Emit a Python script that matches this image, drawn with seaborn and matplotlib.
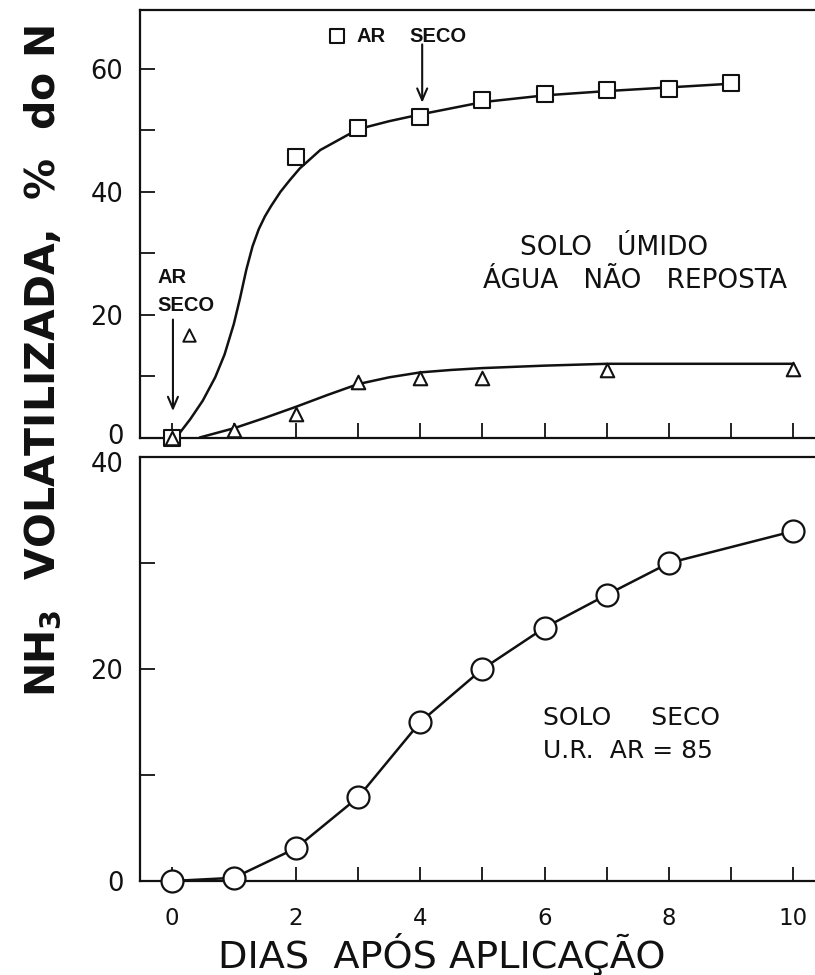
import numpy as np
import pandas as pd
import matplotlib
matplotlib.use("Agg")
import matplotlib.pyplot as plt
import matplotlib.transforms as mtrans
from matplotlib.ticker import MultipleLocator
import seaborn as sns

# ---------------- data ----------------
# top panel: wet soil, water not replaced
sq_days = [0, 2, 3, 4, 5, 6, 7, 8, 9]
sq_vals = [0.0, 45.7, 50.4, 52.2, 55.0, 55.9, 56.6, 56.8, 57.7]
tri_days = [0, 1, 2, 3, 4, 5, 7, 10]
tri_vals = [0.0, 1.3, 3.8, 9.0, 9.7, 9.7, 11.0, 11.1]

# hand-drawn fitted curves
sq_curve_x = [0.08, 0.3, 0.5, 0.7, 0.85, 1.0, 1.1, 1.2, 1.3, 1.4, 1.5, 1.6,
              1.75, 1.9, 2.06, 2.39, 3.0, 3.5, 4.0, 5.0, 6.0, 7.0, 8.0, 9.0]
sq_curve_y = [0.1, 3.0, 6.0, 9.8, 13.5, 18.5, 22.7, 27.3, 31.1, 33.9, 36.0,
              37.7, 40.0, 41.9, 43.8, 46.8, 50.2, 51.5, 52.6, 54.6, 55.7,
              56.4, 57.0, 57.6]
tri_curve_x = [0.45, 1.0, 1.5, 2.0, 2.5, 3.0, 3.5, 4.0, 4.5, 5.0, 5.5, 6.0,
               7.0, 8.0, 9.0, 10.0]
tri_curve_y = [0.0, 1.5, 3.2, 5.0, 6.9, 8.7, 9.8, 10.6, 11.0, 11.3, 11.5,
               11.7, 12.0, 12.0, 12.0, 12.0]

# bottom panel: dry soil, air RH = 85
circ_days = [0, 1, 2, 3, 4, 5, 6, 7, 8, 10]
circ_vals = [0.0, 0.3, 3.1, 7.9, 15.0, 20.0, 23.9, 27.0, 30.0, 33.0]

top_yticks = [0, 20, 40, 60]
bot_yticks = [0, 20, 40]
bot_xticks = [0, 2, 4, 6, 8, 10]

# ---------------- style ----------------
sns.set_theme(style="ticks")
plt.rcParams["font.family"] = ["DejaVu Sans"]
plt.rcParams["axes.linewidth"] = 1.6
plt.rcParams["axes.edgecolor"] = "#111111"

INK = "#111111"
fig = plt.figure(figsize=(8.15, 9.75), dpi=100)
fig.patch.set_facecolor("white")

W, H = 815.0, 975.0
ax1 = fig.add_axes([140 / W, 1 - 437.5 / H, 1 - 140 / W, (437.5 - 10) / H])
ax2 = fig.add_axes([140 / W, 1 - 881 / H, 1 - 140 / W, (881 - 457) / H])

XLIM = (-0.51, 10.35)

# ---- top panel ----
df_sq_c = pd.DataFrame({"x": sq_curve_x, "y": sq_curve_y})
df_tr_c = pd.DataFrame({"x": tri_curve_x, "y": tri_curve_y})
df_sq = pd.DataFrame({"x": sq_days, "y": sq_vals})
df_tr = pd.DataFrame({"x": tri_days, "y": tri_vals})

sns.lineplot(data=df_sq_c, x="x", y="y", ax=ax1, color=INK, lw=1.8,
             sort=False, estimator=None, zorder=2)
sns.lineplot(data=df_tr_c, x="x", y="y", ax=ax1, color=INK, lw=1.8,
             sort=False, estimator=None, zorder=2)
sns.scatterplot(data=df_sq, x="x", y="y", ax=ax1, marker="s", s=130,
                facecolor="white", edgecolor=INK, linewidth=1.5, zorder=4,
                clip_on=False)
sns.scatterplot(data=df_tr, x="x", y="y", ax=ax1, marker="^", s=95,
                facecolor="white", edgecolor=INK, linewidth=1.5, zorder=4,
                clip_on=False)

ax1.set_xlim(*XLIM)
ax1.set_ylim(0, 69.6)
ax1.set_yticks(top_yticks)
ax1.yaxis.set_minor_locator(MultipleLocator(10))
ax1.xaxis.set_major_locator(MultipleLocator(1))
ax1.tick_params(axis="x", which="both", direction="in", length=11, width=1.3,
                color=INK, labelbottom=False)
ax1.tick_params(axis="y", which="both", direction="in", length=11, width=1.3,
                color=INK, pad=12, labelsize=18.5, labelcolor=INK)
ax1.set_xlabel("")
ax1.set_ylabel("")
ax1.spines["right"].set_visible(False)

# annotations top panel
ax1.scatter([2.66], [65.3], marker="s", s=100, facecolor="white",
            edgecolor=INK, linewidth=1.5, zorder=5)
ax1.text(2.98, 65.3, "AR", fontsize=14.5, fontfamily="Liberation Sans",
         fontweight="bold", ha="left", va="center", color=INK)
ax1.text(3.83, 65.3, "SECO", fontsize=14.5, fontfamily="Liberation Sans",
         fontweight="bold", ha="left", va="center", color=INK)
ax1.annotate("", xy=(4.03, 54.5), xytext=(4.03, 64.0),
             arrowprops=dict(arrowstyle="->,head_length=0.7,head_width=0.3",
                             lw=1.5, color=INK, shrinkA=0, shrinkB=0))

ax1.text(-0.23, 26.1, "AR", fontsize=14.5, fontfamily="Liberation Sans",
         fontweight="bold", ha="left", va="center", color=INK)
ax1.text(-0.23, 21.5, "SECO", fontsize=14.5, fontfamily="Liberation Sans",
         fontweight="bold", ha="left", va="center", color=INK)
ax1.annotate("", xy=(0.02, 4.3), xytext=(0.02, 19.2),
             arrowprops=dict(arrowstyle="->,head_length=0.7,head_width=0.3",
                             lw=1.5, color=INK, shrinkA=0, shrinkB=0))
ax1.scatter([0.28], [16.7], marker="^", s=80, facecolor="white",
            edgecolor=INK, linewidth=1.4, zorder=5)

ax1.text(7.11, 30.9, "SOLO   ÚMIDO", fontsize=19, ha="center", va="center",
         color=INK)
ax1.text(7.45, 25.4, "ÁGUA   NÃO   REPOSTA", fontsize=19, ha="center",
         va="center", color=INK)

# ---- bottom panel ----
df_c = pd.DataFrame({"x": circ_days, "y": circ_vals})
sns.lineplot(data=df_c, x="x", y="y", ax=ax2, color=INK, lw=1.8,
             sort=False, estimator=None, zorder=2)
sns.scatterplot(data=df_c, x="x", y="y", ax=ax2, marker="o", s=250,
                facecolor="white", edgecolor=INK, linewidth=1.6, zorder=4,
                clip_on=False)

ax2.set_xlim(*XLIM)
ax2.set_ylim(0, 40)
ax2.set_yticks(bot_yticks)
ax2.yaxis.set_minor_locator(MultipleLocator(10))
ax2.set_xticks(bot_xticks)
ax2.xaxis.set_minor_locator(MultipleLocator(1))
ax2.tick_params(axis="x", which="both", direction="in", length=10, width=1.3,
                color=INK, pad=19, labelsize=16.5, labelcolor=INK)
ax2.tick_params(axis="y", which="both", direction="in", length=11, width=1.3,
                color=INK, pad=12, labelsize=18.5, labelcolor=INK)
ax2.set_xlabel("")
ax2.set_ylabel("")
ax2.spines["right"].set_visible(False)

# nudge the two touching tick labels ("0" above, "40" below) apart a little
t_top0 = ax1.yaxis.get_major_ticks()[0].label1
t_top0.set_transform(t_top0.get_transform() +
                     mtrans.ScaledTranslation(0, 0.035, fig.dpi_scale_trans))
t_bot40 = ax2.yaxis.get_major_ticks()[-1].label1
t_bot40.set_transform(t_bot40.get_transform() +
                      mtrans.ScaledTranslation(0, -0.045, fig.dpi_scale_trans))

ax2.text(5.98, 15.4, "SOLO     SECO", fontsize=18, ha="left", va="center",
         color=INK)
ax2.text(5.98, 12.3, "U.R.  AR = 85", fontsize=18, ha="left", va="center",
         color=INK)

# ---- axis titles ----
fig.text(43 / W, 1 - 361 / H, r"NH$_\mathbf{3}$  VOLATILIZADA,  %  do N",
         rotation=90, ha="center", va="center", fontsize=29.5,
         fontweight="bold", color=INK)
fig.text(442 / W, 1 - 954 / H, "DIAS  APÓS APLICAÇÃO", ha="center",
         va="center", fontsize=27.5, color=INK)

fig.savefig("out.png", dpi=100, facecolor="white")
